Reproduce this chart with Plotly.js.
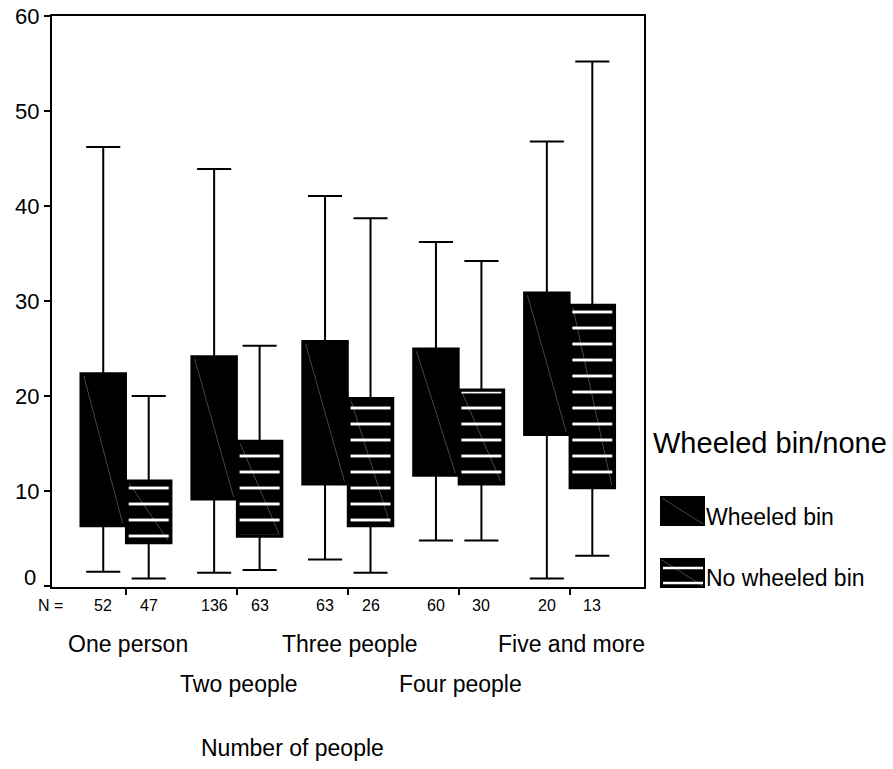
<!DOCTYPE html>
<html>
<head>
<meta charset="utf-8">
<script src="https://cdn.plot.ly/plotly-3.0.1.min.js"></script>
<style>
  html, body { margin: 0; padding: 0; background: #ffffff; }
  #chart { width: 893px; height: 769px; }
</style>
</head>
<body>
<div id="chart"></div>
<script>
// Household size groups and sample sizes
const groups = ['One person', 'Two people', 'Three people', 'Four people', 'Five and more'];
const nWheeled = [52, 136, 63, 60, 20];
const nNone = [47, 63, 26, 30, 13];

// Box statistics: households with a wheeled bin
const wheeledHigh = [46.2, 43.9, 41.05, 36.2, 46.8];
const wheeledQ3   = [22.4, 24.2, 25.8, 25.0, 30.9];
const wheeledMed  = [12.5, 15.0, 17.0, 18.0, 22.0];
const wheeledQ1   = [6.3, 9.1, 10.7, 11.6, 15.9];
const wheeledLow  = [1.5, 1.4, 2.8, 4.8, 0.8];

// Box statistics: households without a wheeled bin
const noneHigh = [20.0, 25.3, 38.7, 34.2, 55.2];
const noneQ3   = [11.1, 15.3, 19.8, 20.7, 29.6];
const noneMed  = [7.0, 9.0, 12.0, 15.0, 18.0];
const noneQ1   = [4.5, 5.2, 6.3, 10.7, 10.3];
const noneLow  = [0.8, 1.7, 1.4, 4.8, 3.2];

const yTicks = [0, 10, 20, 30, 40, 50, 60];
const seriesNames = ['Wheeled bin', 'No wheeled bin'];
const legendTitle = 'Wheeled bin/none';
const xTitle = 'Number of people';

const FONT = 'Liberation Sans, Arial, Helvetica, sans-serif';
const W = 893, H = 769;
const M = { l: 52, r: 249, t: 16, b: 182 };
const plotW = W - M.l - M.r;
const plotH = H - M.t - M.b;
// page pixel -> paper fraction helpers for decorations outside the axes
const px = x => (x - M.l) / plotW;
const py = y => (H - M.b - y) / plotH;

const pos = groups.map((_, i) => i);
const BOXW = 0.41;                          // width of one box in x units
const posW = pos.map(p => p - BOXW / 2);    // left box of each pair
const posN = pos.map(p => p + BOXW / 2);    // right box of each pair

const boxCommon = {
  type: 'box', boxpoints: false, whiskerwidth: 0.75, width: BOXW,
  line: { color: '#000', width: 2 }, fillcolor: '#000',
  showlegend: false, hoverinfo: 'skip'
};

const wheeledBox = Object.assign({}, boxCommon, {
  name: seriesNames[0], x: posW, q1: wheeledQ1, median: wheeledMed, q3: wheeledQ3,
  lowerfence: wheeledLow, upperfence: wheeledHigh
});
const noneBox = Object.assign({}, boxCommon, {
  name: seriesNames[1], x: posN, q1: noneQ1, median: noneMed, q3: noneQ3,
  lowerfence: noneLow, upperfence: noneHigh
});

// white horizontal hatching laid over the "no wheeled bin" boxes
const hatchX = [], hatchY = [];
pos.forEach((p, i) => {
  const a = posN[i] - BOXW / 2 + 0.025, b = posN[i] + BOXW / 2 - 0.025;
  const lo = noneQ1[i] + 0.25, hi = noneQ3[i] - 0.25;
  hatchX.push(a, b, b, a, a, null);
  hatchY.push(lo, lo, hi, hi, lo, null);
});
const hatch = {
  type: 'scatter', mode: 'lines', x: hatchX, y: hatchY,
  fill: 'toself', fillcolor: 'rgba(0,0,0,0)',
  fillpattern: { shape: '-', fgcolor: '#ffffff', bgcolor: 'rgba(0,0,0,0)', size: 16, solidity: 0.18 },
  line: { width: 0, color: 'rgba(0,0,0,0)' },
  showlegend: false, hoverinfo: 'skip'
};

// faint diagonal hatch running corner to corner in every box
const diagX = [], diagY = [];
pos.forEach((p, i) => {
  diagX.push(posW[i] - BOXW / 2 + 0.03, posW[i] + BOXW / 2 - 0.03, null);
  diagY.push(wheeledQ3[i] - 0.3, wheeledQ1[i] + 0.3, null);
  diagX.push(posN[i] - BOXW / 2 + 0.03, posN[i] + BOXW / 2 - 0.03, null);
  diagY.push(noneQ3[i] - 0.3, noneQ1[i] + 0.3, null);
});
const diag = {
  type: 'scatter', mode: 'lines', x: diagX, y: diagY,
  line: { color: 'rgba(255,255,255,0.35)', width: 0.8 },
  showlegend: false, hoverinfo: 'skip'
};

const annotations = [];
// the zero label sits raised just above the baseline
annotations.push({
  xref: 'paper', yref: 'paper', x: px(38), y: py(577), text: String(yTicks[0]),
  showarrow: false, xanchor: 'right', yanchor: 'middle',
  font: { family: FONT, size: 22, color: '#000' }
});
// group names in two staggered rows
groups.forEach((g, i) => {
  annotations.push({
    xref: 'x', yref: 'paper', x: i + 0.02, y: py(i % 2 === 0 ? 644 : 684),
    text: g, showarrow: false, xanchor: 'center', yanchor: 'middle',
    font: { family: FONT, size: 23, color: '#000' }
  });
});
// sample sizes under each box
annotations.push({
  xref: 'paper', yref: 'paper', x: px(50), y: py(605), text: 'N =',
  showarrow: false, xanchor: 'center', yanchor: 'middle',
  font: { family: FONT, size: 16, color: '#000' }
});
pos.forEach((p, i) => {
  annotations.push({
    xref: 'x', yref: 'paper', x: posW[i], y: py(605), text: String(nWheeled[i]),
    showarrow: false, xanchor: 'center', yanchor: 'middle',
    font: { family: FONT, size: 16, color: '#000' }
  });
  annotations.push({
    xref: 'x', yref: 'paper', x: posN[i], y: py(605), text: String(nNone[i]),
    showarrow: false, xanchor: 'center', yanchor: 'middle',
    font: { family: FONT, size: 16, color: '#000' }
  });
});
// axis title
annotations.push({
  xref: 'paper', yref: 'paper', x: px(292), y: py(748), text: xTitle,
  showarrow: false, xanchor: 'center', yanchor: 'middle',
  font: { family: FONT, size: 23, color: '#000' }
});
// legend texts
annotations.push({
  xref: 'paper', yref: 'paper', x: px(651), y: py(443), text: legendTitle,
  showarrow: false, xanchor: 'left', yanchor: 'middle',
  font: { family: FONT, size: 29, color: '#000' }
});
annotations.push({
  xref: 'paper', yref: 'paper', x: px(704), y: py(517), text: seriesNames[0],
  showarrow: false, xanchor: 'left', yanchor: 'middle',
  font: { family: FONT, size: 23, color: '#000' }
});
annotations.push({
  xref: 'paper', yref: 'paper', x: px(704), y: py(578), text: seriesNames[1],
  showarrow: false, xanchor: 'left', yanchor: 'middle',
  font: { family: FONT, size: 23, color: '#000' }
});

// legend keys
const shapes = [
  { type: 'rect', xref: 'paper', yref: 'paper', x0: px(660), x1: px(705), y0: py(526), y1: py(496),
    fillcolor: '#000', line: { width: 0 } },
  { type: 'line', xref: 'paper', yref: 'paper', x0: px(662), x1: px(703), y0: py(498), y1: py(524),
    line: { color: 'rgba(255,255,255,0.35)', width: 0.8 } },
  { type: 'rect', xref: 'paper', yref: 'paper', x0: px(660), x1: px(705), y0: py(588), y1: py(558),
    fillcolor: '#000', line: { width: 0 } },
  { type: 'line', xref: 'paper', yref: 'paper', x0: px(663), x1: px(703), y0: py(568), y1: py(568),
    line: { color: '#fff', width: 2.5 } },
  { type: 'line', xref: 'paper', yref: 'paper', x0: px(663), x1: px(703), y0: py(583), y1: py(583),
    line: { color: '#fff', width: 2.5 } },
  { type: 'line', xref: 'paper', yref: 'paper', x0: px(662), x1: px(703), y0: py(560), y1: py(586),
    line: { color: 'rgba(255,255,255,0.35)', width: 0.8 } }
];

const layout = {
  width: W, height: H,
  margin: M,
  paper_bgcolor: '#ffffff', plot_bgcolor: '#ffffff',
  font: { family: FONT, color: '#000' },
  showlegend: false,
  boxmode: 'overlay',
  xaxis: {
    range: [-0.667, 4.671], tickvals: pos, showticklabels: false,
    ticks: 'outside', ticklen: 6, tickwidth: 2, tickcolor: '#000',
    showline: true, mirror: true, linecolor: '#000', linewidth: 2,
    showgrid: false, zeroline: false, fixedrange: true
  },
  yaxis: {
    range: [-0.1, 60], tickvals: yTicks,
    ticktext: yTicks.map(v => (v === 0 ? '' : String(v))),
    ticks: 'outside', ticklen: 6, tickwidth: 2, tickcolor: '#000',
    tickfont: { family: FONT, size: 22, color: '#000' },
    showline: true, mirror: true, linecolor: '#000', linewidth: 2,
    showgrid: false, zeroline: false, fixedrange: true
  },
  annotations: annotations,
  shapes: shapes
};

Plotly.newPlot('chart', [wheeledBox, noneBox, hatch, diag], layout, { displayModeBar: false, staticPlot: true });
</script>
</body>
</html>
